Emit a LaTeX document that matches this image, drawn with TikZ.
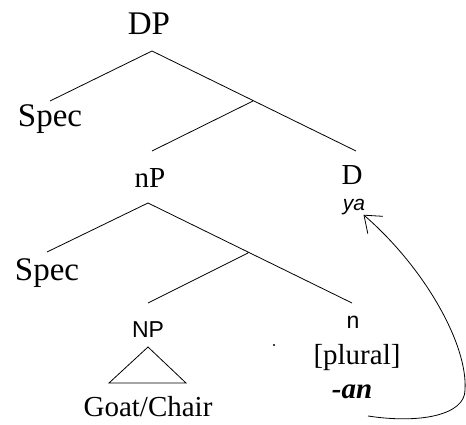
\documentclass[tikz,border=0pt]{standalone}
\usepackage{fontspec}
\setmainfont{Liberation Serif}
\newfontfamily\labelsans{Liberation Sans}
\usetikzlibrary{arrows.meta}

\begin{document}
\begin{tikzpicture}[x=1pt,y=-1pt,line width=0.8pt,
    big/.style={anchor=base,inner sep=0pt,font=\fontsize{33}{36}\selectfont},
    cat/.style={anchor=base,inner sep=0pt,font=\fontsize{29}{31}\selectfont},
    feat/.style={anchor=base,inner sep=0pt,font=\labelsans\fontsize{23}{25}\selectfont}]
  \useasboundingbox (0,0) rectangle (466,425);
  \draw
    (149,35) node[big] (DP){DP}
    (50,127) node[big] (spec1){Spec}
    (150,188) node[cat] (nP){nP}
    (352,185) node[cat] (D){D}
    (354,210) node[feat,font=\labelsans\itshape\fontsize{21}{23}\selectfont] (ya){ya}
    (47,280) node[big] (spec2){Spec}
    (148,337) node[feat] (NP){NP}
    (353,328) node[feat] (n){n}
    (357,364) node[cat] (plural){[plural]}
    (352,398) node[cat,font=\bfseries\itshape\fontsize{29}{31}\selectfont] (an){-an}
    (148,416) node[cat] (goat){Goat/Chair};
  % branch points and line ends
  \path
    (152,51) coordinate (DP-root)
    (50,101) coordinate (spec1-top)
    (253,101) coordinate (Dbar)
    (152,151) coordinate (nP-top)
    (356,151) coordinate (D-top)
    (148,203) coordinate (nP-root)
    (47,252) coordinate (spec2-top)
    (248,253) coordinate (nbar)
    (148,303) coordinate (NP-top)
    (352,303) coordinate (n-top)
    (148,347) coordinate (tri-top)
    (109,383) coordinate (tri-left)
    (186,383) coordinate (tri-right)
    (368,416) coordinate (move-tail)
    (465,390) coordinate (move-bend);
  \draw (spec1-top) -- (DP-root) -- (D-top) (Dbar) -- (nP-top);
  \draw (spec2-top) -- (nP-root) -- (n-top) (nbar) -- (NP-top);
  \draw (tri-top) -- (tri-left) -- (tri-right) -- cycle;
  \fill (274,345) circle (1.1);
  % head movement of -an up to D
  \draw[-{Straight Barb[length=15pt,width=23pt]}]
    (move-tail) .. controls (420,424) and (465,415) .. (move-bend)
    .. controls (468,345) and (425,268) .. ([xshift=-2pt]ya.south east);
\end{tikzpicture}
\end{document}
